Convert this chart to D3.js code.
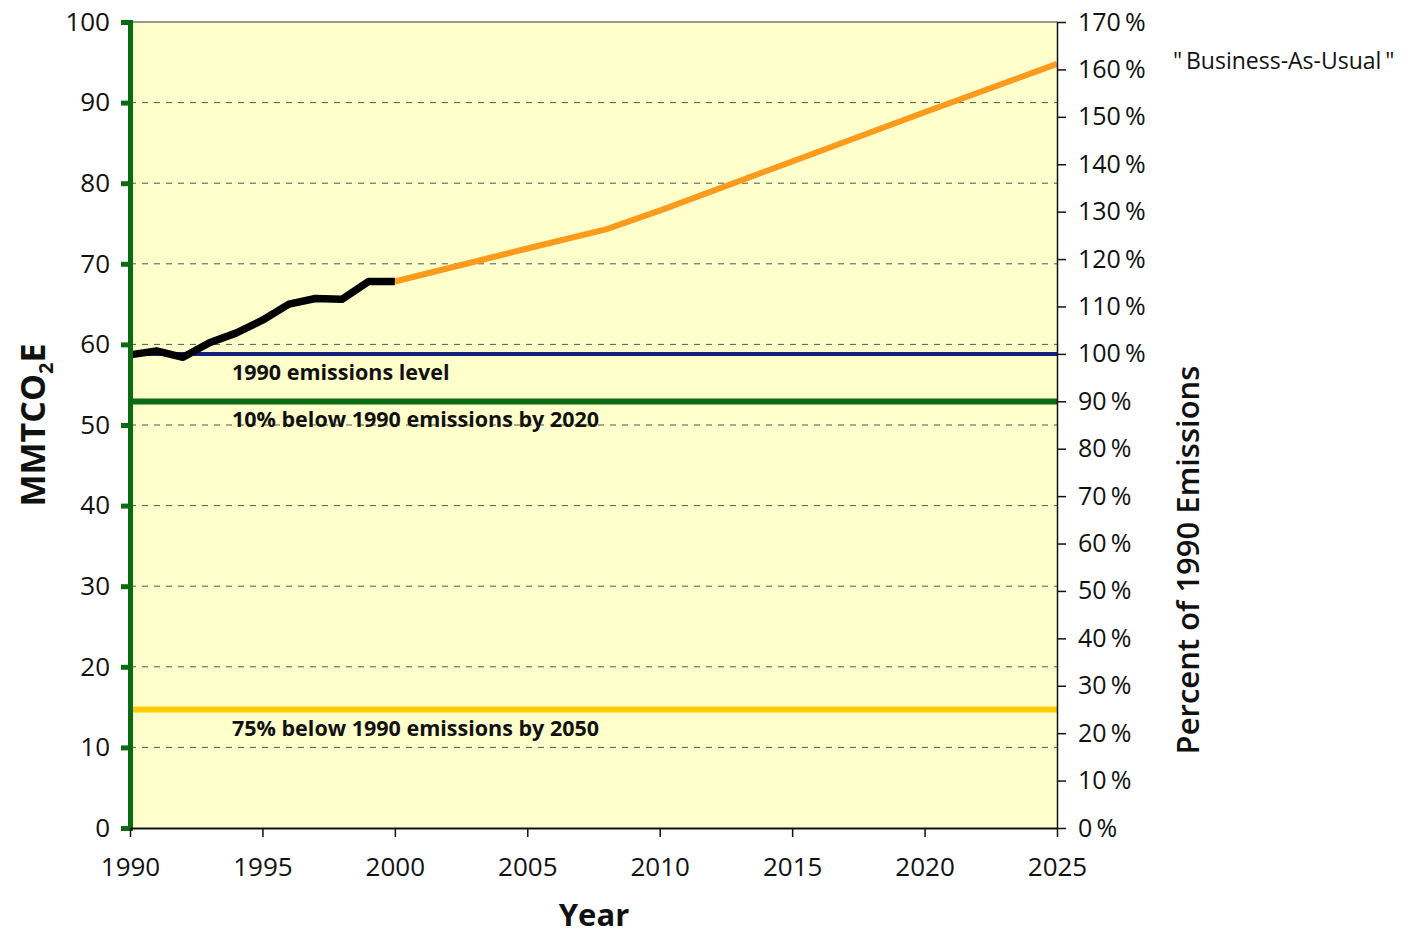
<!DOCTYPE html>
<html>
<head>
<meta charset="utf-8">
<script src="https://cdn.jsdelivr.net/npm/d3@7"></script>
<style>
  body { margin: 0; background: #fff; }
  text { font-family: "Open Sans", "Noto Sans", sans-serif; }
</style>
</head>
<body>
<svg id="chart"></svg>
<script>
// historical emissions (MMTCO2E)
const histYears = [1990, 1991, 1992, 1993, 1994, 1995, 1996, 1997, 1998, 1999, 2000]
const histValues = [58.7, 59.2, 58.4, 60.2, 61.4, 63.0, 65.0, 65.7, 65.6, 67.8, 67.8]

// business-as-usual projection
const bauYears = [2000, 2005, 2008, 2010, 2015, 2020, 2025]
const bauValues = [67.8, 71.9, 74.3, 76.6, 82.7, 88.8, 94.8]

// target levels
const targetNames = ["1990 emissions level", "10% below 1990 emissions by 2020", "75% below 1990 emissions by 2050"]
const targetPercents = [100, 90, 25]
const targetColors = ["#14207a", "#0a6b12", "#ffcc00"]

const base1990 = 58.8
const yTicks = d3.range(0, 101, 10)
const pctTicks = d3.range(0, 171, 10)
const xTicks = d3.range(1990, 2026, 5)

var width = 1423
var height = 935
var margin = ({top: 22, right: 366, bottom: 107, left: 130})

const svg = d3.select("#chart")
  .attr("width", width)
  .attr("height", height)

var x = d3.scaleLinear()
  .domain([1990, 2025])
  .range([margin.left, width - margin.right])

var y = d3.scaleLinear()
  .domain([0, 100])
  .range([height - margin.bottom, margin.top])

var yPct = d3.scaleLinear()
  .domain([0, 170])
  .range([height - margin.bottom, margin.top])

// plot background
svg.append("rect")
  .attr("x", x(1990)).attr("y", y(100))
  .attr("width", x(2025) - x(1990))
  .attr("height", y(0) - y(100))
  .attr("fill", "#ffffcc")

// dashed grid
svg.append("g")
  .selectAll("line")
  .data(yTicks.filter(d => d > 0 && d < 100))
  .join("line")
    .attr("x1", x(1990)).attr("x2", x(2025))
    .attr("y1", d => y(d)).attr("y2", d => y(d))
    .attr("stroke", "#555")
    .attr("stroke-width", 1)
    .attr("stroke-dasharray", "6,6")

// top border
svg.append("line")
  .attr("x1", x(1990)).attr("x2", x(2025))
  .attr("y1", y(100)).attr("y2", y(100))
  .attr("stroke", "#777").attr("stroke-width", 1.5)

// target lines + labels
const targets = targetNames.map((n, i) => ({name: n, value: base1990 * targetPercents[i] / 100, color: targetColors[i]}))

svg.append("g")
  .selectAll("line")
  .data(targets)
  .join("line")
    .attr("x1", x(1990)).attr("x2", x(2025))
    .attr("y1", d => y(d.value)).attr("y2", d => y(d.value))
    .attr("stroke", d => d.color)
    .attr("stroke-width", (d, i) => i == 0 ? 4 : 6)

svg.append("g")
  .selectAll("text")
  .data(targets)
  .join("text")
    .attr("x", x(1993.85))
    .attr("y", d => y(d.value) + 26)
    .attr("font-size", 21.5)
    .attr("font-weight", "bold")
    .attr("fill", "#111")
    .text(d => d.name)

// lines
const line = d3.line()
  .x(d => x(d[0]))
  .y(d => y(d[1]))

svg.append("path")
  .datum(bauYears.map((yr, i) => [yr, bauValues[i]]))
  .attr("d", line)
  .attr("fill", "none")
  .attr("stroke", "#ff9a1a")
  .attr("stroke-width", 6)

svg.append("path")
  .datum(histYears.map((yr, i) => [yr, histValues[i]]))
  .attr("d", line)
  .attr("fill", "none")
  .attr("stroke", "#000")
  .attr("stroke-width", 7.5)
  .attr("stroke-linejoin", "round")

// left axis (green)
svg.append("g")
  .attr("transform", `translate(${margin.left},0)`)
  .call(d3.axisLeft(y).tickValues(yTicks).tickSize(9).tickPadding(11))
  .call(g => g.select(".domain").attr("stroke", "#0a6b12").attr("stroke-width", 5))
  .call(g => g.selectAll(".tick line").attr("stroke", "#0a6b12").attr("stroke-width", 5))
  .call(g => g.selectAll(".tick text").attr("font-size", 26).attr("fill", "#111")
    .attr("font-family", "'Open Sans', sans-serif"))

// bottom axis
svg.append("g")
  .attr("transform", `translate(0,${height - margin.bottom})`)
  .call(d3.axisBottom(x).tickValues(xTicks).tickFormat(d3.format("d")).tickSize(9).tickSizeOuter(0).tickPadding(21))
  .call(g => g.select(".domain").attr("stroke", "#111").attr("stroke-width", 2))
  .call(g => g.selectAll(".tick line").attr("stroke", "#111").attr("stroke-width", 1.5))
  .call(g => g.selectAll(".tick text").attr("font-size", 26).attr("fill", "#111")
    .attr("font-family", "'Open Sans', sans-serif"))

// right axis (percent)
svg.append("g")
  .attr("transform", `translate(${width - margin.right},0)`)
  .call(d3.axisRight(yPct).tickValues(pctTicks).tickFormat(d => d + "\u2009%").tickSize(9).tickSizeOuter(0).tickPadding(12))
  .call(g => g.select(".domain").attr("stroke", "#111").attr("stroke-width", 1.5))
  .call(g => g.selectAll(".tick line").attr("stroke", "#111").attr("stroke-width", 1.5))
  .call(g => g.selectAll(".tick text").attr("font-size", 25).attr("fill", "#111")
    .attr("font-family", "'Open Sans', sans-serif"))

// axis titles
svg.append("text")
  .attr("transform", `translate(45,${(y(0) + y(100)) / 2}) rotate(-90)`)
  .attr("text-anchor", "middle")
  .attr("font-size", 34)
  .attr("font-weight", "bold")
  .attr("fill", "#111")
  .call(t => {
    t.append("tspan").text("MMTCO")
    t.append("tspan").attr("font-size", 20).attr("dy", 8).text("2")
    t.append("tspan").attr("dy", -8).text("E")
  })

svg.append("text")
  .attr("x", 594).attr("y", 926)
  .attr("text-anchor", "middle")
  .attr("font-size", 31)
  .attr("font-weight", "bold")
  .attr("fill", "#111")
  .text("Year")

svg.append("text")
  .attr("transform", `translate(1199,560) rotate(-90)`)
  .attr("text-anchor", "middle")
  .attr("font-size", 31)
  .attr("font-weight", 600)
  .attr("fill", "#111")
  .text("Percent of 1990 Emissions")

svg.append("text")
  .attr("x", 1173).attr("y", 69)
  .attr("font-size", 23)
  .attr("fill", "#111")
  .text('"\u2009Business-As-Usual\u2009"')
</script>
</body>
</html>
